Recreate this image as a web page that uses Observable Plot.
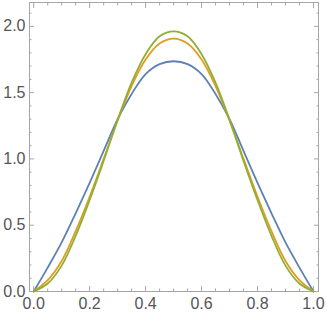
<!DOCTYPE html>
<html>
<head>
<meta charset="utf-8">
<script src="https://cdn.jsdelivr.net/npm/d3@7"></script>
<script src="https://cdn.jsdelivr.net/npm/@observablehq/plot@0.6"></script>
<style>
  html, body { margin: 0; padding: 0; background: #fff; }
  #chart { width: 327px; height: 315px; }
</style>
</head>
<body>
<div id="chart"></div>
<script>
const xs = [0, 0.05, 0.1, 0.15, 0.2, 0.25, 0.3, 0.35, 0.4, 0.45, 0.5,
            0.55, 0.6, 0.65, 0.7, 0.75, 0.8, 0.85, 0.9, 0.95, 1];
const series1 = [0, 0.18, 0.37, 0.59, 0.82, 1.06, 1.30, 1.49, 1.64, 1.715, 1.737,
                 1.715, 1.64, 1.49, 1.30, 1.06, 0.82, 0.59, 0.37, 0.18, 0];
const series2 = [0, 0.085, 0.23, 0.455, 0.715, 1.00, 1.29, 1.55, 1.75, 1.87, 1.907,
                 1.87, 1.75, 1.55, 1.29, 1.00, 0.715, 0.455, 0.23, 0.085, 0];
const series3 = [0, 0.06, 0.195, 0.42, 0.69, 0.985, 1.295, 1.575, 1.79, 1.925, 1.962,
                 1.925, 1.79, 1.575, 1.295, 0.985, 0.69, 0.42, 0.195, 0.06, 0];
const seriesNames = ["S1", "S2", "S3"];
const seriesColors = ["#5E81B5", "#E19C24", "#8FB032"];
const xMajor = [0, 0.2, 0.4, 0.6, 0.8, 1.0];
const xMinor = [0.05, 0.1, 0.15, 0.25, 0.3, 0.35, 0.45, 0.5, 0.55, 0.65, 0.7, 0.75, 0.85, 0.9, 0.95];
const yMajor = [0, 0.5, 1.0, 1.5, 2.0];
const yMinor = [0.1, 0.2, 0.3, 0.4, 0.6, 0.7, 0.8, 0.9, 1.1, 1.2, 1.3, 1.4, 1.6, 1.7, 1.8, 1.9, 2.1];

const rows = [];
[series1, series2, series3].forEach((arr, i) => {
  arr.forEach((v, j) => rows.push({x: xs[j], y: v, s: seriesNames[i]}));
});

const tickColor = "#a6a6a6";
const labelColor = "#555555";
const none = () => "";
const fmt = d3.format(".1f");

const chart = Plot.plot({
  width: 327,
  height: 315,
  marginLeft: 29,
  marginRight: 9,
  marginTop: 2,
  marginBottom: 24,
  style: {fontFamily: "'Liberation Sans', Arial, sans-serif", background: "#fff"},
  x: {domain: [-0.015, 1.018], axis: null},
  y: {domain: [0, 2.18], axis: null},
  color: {domain: seriesNames, range: seriesColors},
  marks: [
    Plot.frame({stroke: tickColor, strokeWidth: 1}),
    Plot.axisX({anchor: "bottom", ticks: xMajor, tickSize: 5, dy: -5, tickFormat: none, label: null, stroke: tickColor}),
    Plot.axisX({anchor: "top", ticks: xMajor, tickSize: 5, dy: 5, tickFormat: none, label: null, stroke: tickColor}),
    Plot.axisX({anchor: "bottom", ticks: xMinor, tickSize: 2.5, dy: -2.5, tickFormat: none, label: null, stroke: tickColor}),
    Plot.axisX({anchor: "top", ticks: xMinor, tickSize: 2.5, dy: 2.5, tickFormat: none, label: null, stroke: tickColor}),
    Plot.axisY({anchor: "left", ticks: yMajor, tickSize: 5, dx: 5, tickFormat: none, label: null, stroke: tickColor}),
    Plot.axisY({anchor: "right", ticks: yMajor, tickSize: 5, dx: -5, tickFormat: none, label: null, stroke: tickColor}),
    Plot.axisY({anchor: "left", ticks: yMinor, tickSize: 2.5, dx: 2.5, tickFormat: none, label: null, stroke: tickColor}),
    Plot.axisY({anchor: "right", ticks: yMinor, tickSize: 2.5, dx: -2.5, tickFormat: none, label: null, stroke: tickColor}),
    Plot.axisX({anchor: "bottom", ticks: xMajor, tickSize: 0, tickPadding: 6, tickFormat: fmt, label: null, fill: labelColor, fontSize: 16}),
    Plot.axisY({anchor: "left", ticks: yMajor, tickSize: 0, tickPadding: 4, tickFormat: fmt, label: null, fill: labelColor, fontSize: 16}),
    Plot.line(rows, {x: "x", y: "y", z: "s", stroke: "s", strokeWidth: 1.8, curve: "catmull-rom"})
  ]
});
document.getElementById("chart").appendChild(chart);
</script>
</body>
</html>
